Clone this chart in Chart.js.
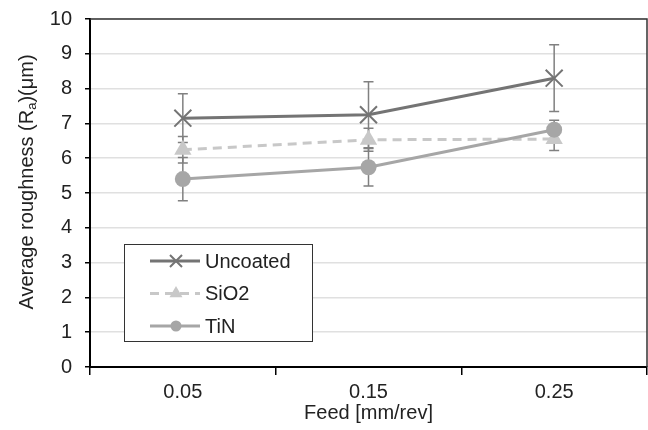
<!DOCTYPE html>
<html>
<head>
<meta charset="utf-8">
<script src="https://cdn.jsdelivr.net/npm/chart.js"></script>
<style>
  body { margin: 0; background: #fff; }
  #chart { display: block; }
</style>
</head>
<body>
<canvas id="chart" width="648" height="430"></canvas>
<script>
// feed rates and mean roughness per coating, with +/- error
const feeds = ['0.05', '0.15', '0.25'];
const uncoated = [7.15, 7.25, 8.3];
const uncoatedErr = [0.7, 0.95, 0.96];
const sio2 = [6.24, 6.53, 6.55];
const sio2Err = [0.38, 0.33, 0.33];
const tin = [5.4, 5.74, 6.82];
const tinErr = [0.62, 0.54, 0.27];
const errors = [uncoatedErr, sio2Err, tinErr];

const FONT = 'Liberation Sans, Arial, sans-serif';
const FS = 20;

// small marker painter for the legend samples
function drawMarker(ctx, style, x, y, r, color) {
    ctx.save();
    ctx.strokeStyle = color;
    ctx.fillStyle = color;
    ctx.lineWidth = 2;
    ctx.beginPath();
    if (style === 'crossRot') {
        const d = r * Math.SQRT1_2;
        ctx.moveTo(x - d, y - d); ctx.lineTo(x + d, y + d);
        ctx.moveTo(x - d, y + d); ctx.lineTo(x + d, y - d);
        ctx.stroke();
    } else if (style === 'triangle') {
        ctx.moveTo(x, y - r);
        ctx.lineTo(x + r * 0.866, y + r * 0.5);
        ctx.lineTo(x - r * 0.866, y + r * 0.5);
        ctx.closePath();
        ctx.fill();
    } else {
        ctx.arc(x, y, r, 0, Math.PI * 2);
        ctx.fill();
    }
    ctx.restore();
}

// zero the automatic label padding so the plot box keeps fixed edges
function noPadding(scale) {
    scale.paddingLeft = 0;
    scale.paddingRight = 0;
    scale.paddingTop = 0;
    scale.paddingBottom = 0;
}

const errorBars = {
    id: 'errorBars',
    beforeDatasetsDraw(chart) {
        const ctx = chart.ctx;
        const x = chart.scales.x, y = chart.scales.y;
        ctx.save();
        ctx.strokeStyle = '#808080';
        ctx.lineWidth = 1.5;
        chart.data.datasets.forEach((ds, i) => {
            ds.data.forEach((v, j) => {
                const px = x.getPixelForValue(j);
                const top = y.getPixelForValue(v + errors[i][j]);
                const bot = y.getPixelForValue(v - errors[i][j]);
                ctx.beginPath();
                ctx.moveTo(px, top); ctx.lineTo(px, bot);
                ctx.moveTo(px - 5, top); ctx.lineTo(px + 5, top);
                ctx.moveTo(px - 5, bot); ctx.lineTo(px + 5, bot);
                ctx.stroke();
            });
        });
        ctx.restore();
    }
};

const frame = {
    id: 'frame',
    afterDraw(chart) {
        const ctx = chart.ctx;
        const a = chart.chartArea;
        ctx.save();
        // top and right edges of the plot box
        ctx.strokeStyle = '#333';
        ctx.lineWidth = 1.5;
        ctx.beginPath();
        ctx.moveTo(a.left, a.top);
        ctx.lineTo(a.right, a.top);
        ctx.lineTo(a.right, a.bottom);
        ctx.stroke();

        // y axis title with subscript
        const p1 = 'Average roughness (R', sub = 'a', p2 = ')(\u03bcm)';
        ctx.fillStyle = '#222';
        ctx.font = FS + 'px ' + FONT;
        const w1 = ctx.measureText(p1).width, w3 = ctx.measureText(p2).width;
        ctx.font = (FS * 0.65) + 'px ' + FONT;
        const w2 = ctx.measureText(sub).width;
        const total = w1 + w2 + w3;
        ctx.translate(27, 182);
        ctx.rotate(-Math.PI / 2);
        ctx.textBaseline = 'middle';
        ctx.textAlign = 'left';
        let sx = -total / 2;
        ctx.font = FS + 'px ' + FONT;
        ctx.fillText(p1, sx, 0);
        sx += w1;
        ctx.font = (FS * 0.65) + 'px ' + FONT;
        ctx.fillText(sub, sx, 5);
        sx += w2;
        ctx.font = FS + 'px ' + FONT;
        ctx.fillText(p2, sx, 0);
        ctx.restore();

        // legend box inside the plot
        const bx = a.left + 34, by = a.bottom - 123, bw = 188, bh = 97;
        ctx.save();
        ctx.fillStyle = '#fff';
        ctx.fillRect(bx, by, bw, bh);
        ctx.strokeStyle = '#333';
        ctx.lineWidth = 1;
        ctx.strokeRect(bx + 0.5, by + 0.5, bw, bh);
        const sizes = [8.5, 7.5, 5.5];
        chart.data.datasets.forEach((ds, i) => {
            const ly = by + 17 + i * 32.5;
            ctx.strokeStyle = ds.borderColor;
            ctx.lineWidth = 3;
            ctx.setLineDash(ds.borderDash || []);
            ctx.beginPath();
            ctx.moveTo(bx + 26, ly); ctx.lineTo(bx + 76, ly);
            ctx.stroke();
            ctx.setLineDash([]);
            drawMarker(ctx, ds.pointStyle, bx + 52, ly, sizes[i], ds.borderColor);
            ctx.fillStyle = '#222';
            ctx.font = FS + 'px ' + FONT;
            ctx.textBaseline = 'middle';
            ctx.fillText(ds.label, bx + 81, ly + 1);
        });
        ctx.restore();
    }
};

new Chart(document.getElementById('chart').getContext('2d'), {
    type: 'line',
    data: {
        labels: feeds,
        datasets: [{
            label: 'Uncoated',
            data: uncoated,
            borderColor: '#747474',
            borderWidth: 3,
            pointStyle: 'crossRot',
            pointRadius: 12,
            pointBorderWidth: 2,
            pointBorderColor: '#747474',
            order: 3
        }, {
            label: 'SiO2',
            data: sio2,
            borderColor: '#c8c8c8',
            borderWidth: 3,
            borderDash: [9, 6],
            pointStyle: 'triangle',
            pointRadius: 10,
            pointBorderWidth: 0,
            pointBackgroundColor: '#c8c8c8',
            pointBorderColor: '#c8c8c8',
            order: 2
        }, {
            label: 'TiN',
            data: tin,
            borderColor: '#a6a6a6',
            borderWidth: 3,
            pointStyle: 'circle',
            pointRadius: 8,
            pointBorderWidth: 0,
            pointBackgroundColor: '#a6a6a6',
            pointBorderColor: '#a6a6a6',
            order: 1
        }]
    },
    options: {
        responsive: false,
        animation: false,
        layout: {
            autoPadding: false,
            padding: { top: 19, right: 1, left: 0, bottom: 0 }
        },
        plugins: {
            legend: { display: false },
            tooltip: { enabled: false }
        },
        scales: {
            x: {
                offset: true,
                grid: {
                    offset: true,
                    drawOnChartArea: false,
                    drawTicks: true,
                    tickLength: 8,
                    tickColor: '#000',
                    lineWidth: 1.5
                },
                border: { display: true, color: '#000', width: 2 },
                ticks: { color: '#222', font: { family: FONT, size: FS }, padding: 5 },
                title: {
                    display: true,
                    text: 'Feed [mm/rev]',
                    color: '#222',
                    font: { family: FONT, size: FS },
                    padding: { top: 0, bottom: 5 }
                },
                afterFit(scale) {
                    scale.height = 63;
                    noPadding(scale);
                }
            },
            y: {
                min: 0,
                max: 10,
                ticks: { stepSize: 1, color: '#222', font: { family: FONT, size: FS }, padding: 13 },
                grid: {
                    color: '#e0e0e0',
                    lineWidth: 1.5,
                    tickLength: 5,
                    tickColor: '#000'
                },
                border: { display: true, color: '#000', width: 2 },
                afterFit(scale) {
                    scale.width = 90;
                    noPadding(scale);
                }
            }
        }
    },
    plugins: [errorBars, frame]
});
</script>
</body>
</html>
